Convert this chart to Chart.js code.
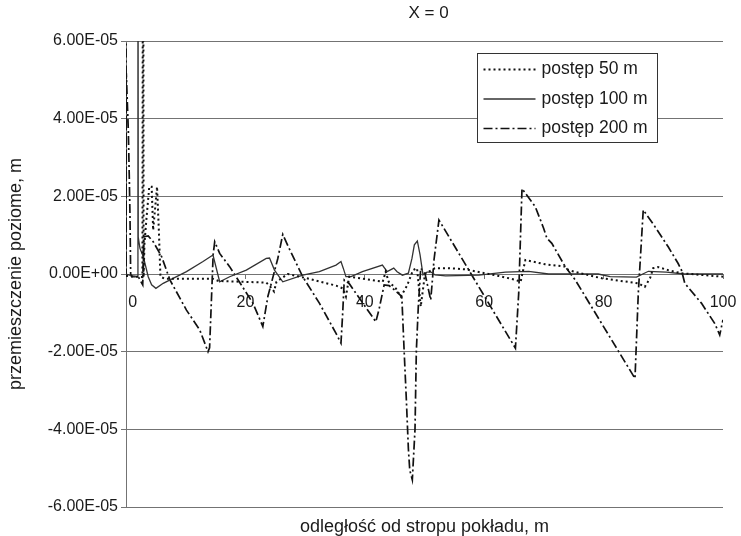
<!DOCTYPE html>
<html>
<head>
<meta charset="utf-8">
<title>X = 0</title>
<script src="https://cdn.jsdelivr.net/npm/chart.js@4.4.1/dist/chart.umd.min.js"></script>
<style>
  html, body { margin: 0; padding: 0; background: #fff; }
  canvas { display: block; }
</style>
</head>
<body>
<canvas id="chart" width="741" height="536"></canvas>
<script>
// displacement values are in 1e-5 m, distance in m
const x50 = [0, 2.75, 2.87, 2.95, 3.1, 3.45, 3.9, 4.3, 4.55, 5.2, 5.5, 5.77, 6.5, 14.5, 15.5, 23.5, 24.3, 24.8, 25.2, 27.1, 30, 35.2, 36.3, 36.84, 37.4, 43, 43.5, 44, 45.2, 46.03, 47.08, 48.08, 48.75, 49.37, 50.08, 51.75, 54.09, 56.88, 59.1, 62.44, 65.23, 66.1, 66.9, 70.2, 73.57, 74.1, 76.1, 79.7, 82.5, 85.8, 86.9, 87.8, 88.3, 89.1, 90.8, 93, 100];
const y50 = [-0.05, -0.08, 15, -0.08, 0.8, 1.47, 2.25, 2.25, 1.13, 2.25, 1.13, -0.07, -0.12, -0.12, -0.18, -0.22, -0.35, -0.45, -0.2, 0, -0.1, -0.3, -0.37, -0.58, -0.07, -0.2, 0.06, -0.2, -0.37, -0.58, -0.3, 0.1, 0.15, -0.84, 0, 0.15, 0.15, 0.12, 0.05, -0.05, -0.15, -0.2, 0.36, 0.25, 0.19, 0.1, 0.02, -0.11, -0.17, -0.24, -0.33, -0.1, 0.15, 0.18, 0.1, 0.02, -0.07];

const x100 = [0, 1, 1.95, 2, 2.05, 2.34, 2.89, 3.17, 3.72, 4.29, 5.01, 6.23, 10.13, 12.9, 14.57, 15.69, 17.36, 20.15, 23.49, 24.04, 24.87, 26.26, 29.6, 32.39, 35.18, 36.01, 36.39, 36.84, 37.7, 39.6, 42.95, 43.74, 44.85, 45.41, 46.3, 47.3, 47.9, 48.3, 48.8, 49.25, 49.75, 50.42, 51.09, 51.75, 53.54, 59.1, 63.56, 67.45, 70.78, 79.1, 81.1, 85.5, 87.5, 90.5, 93.5, 100];
const y100 = [0, -0.05, -0.07, 15, 0.95, 0.66, 0.45, 0.28, -0.07, -0.28, -0.37, -0.24, 0.06, 0.32, 0.49, -0.2, -0.07, 0.1, 0.4, 0.41, 0.1, -0.2, -0.03, 0.06, 0.23, 0.32, 0.15, -0.07, -0.07, 0.06, 0.23, 0.06, 0.15, 0.06, -0.03, 0.02, 0.4, 0.75, 0.85, 0.5, -0.02, 0.05, 0.05, -0.02, -0.05, -0.03, 0.05, 0.07, 0, 0, -0.07, -0.08, 0.07, 0.05, 0, 0];

const x200 = [0, 0.02, 0.05, 0.39, 0.55, 0.67, 0.78, 0.95, 2.05, 2.8, 3, 3.72, 4.56, 5.96, 7.35, 10.13, 12.35, 13.74, 14, 14.6, 14.86, 15.69, 17.36, 21.25, 22.92, 23.76, 25.43, 26.26, 27.2, 29.6, 32.39, 35.18, 36.01, 36.3, 36.56, 37.4, 41.85, 42.4, 43.24, 44.07, 44.9, 46.2, 46.58, 46.96, 47.3, 47.53, 47.96, 48.41, 48.63, 48.96, 49.37, 50.1, 51.04, 51.3, 51.59, 52.42, 65.23, 65.78, 66.33, 68.56, 69.95, 70.5, 71.33, 73.57, 75.24, 85.26, 85.81, 86.64, 88.6, 90.82, 92.49, 93.04, 93.6, 96.38, 98.6, 99.45, 100];
const y200 = [15, -0.05, 5.17, 3.7, 2.5, 1.47, 0, -0.07, -0.07, -0.28, 0.96, 0.98, 0.83, 0.45, -0.15, -0.93, -1.44, -2, -1.9, 0.5, 0.83, 0.53, 0.19, -0.75, -1.35, -0.58, 0.4, 1.02, 0.7, -0.07, -0.75, -1.53, -1.78, -1, -0.15, -0.25, -1.23, -0.9, -0.28, -0.3, -0.4, -0.58, -1.95, -3.24, -4.5, -5.05, -5.3, -4, -2, -0.84, 0.15, 0, -0.67, -0.2, 0.36, 1.39, -1.91, -0.5, 2.2, 1.73, 1.18, 0.92, 0.79, 0.19, -0.15, -2.69, -0.5, 1.65, 1.22, 0.7, 0.27, 0.1, -0.24, -0.75, -1.27, -1.57, -1.18];

const seriesLabels = ['postęp 50 m', 'postęp 100 m', 'postęp 200 m'];
const yTicks = [-6, -4, -2, 0, 2, 4, 6];
const xTicks = [0, 20, 40, 60, 80, 100];
const chartTitle = 'X = 0';
const xTitle = 'odległość od stropu pokładu, m';
const yTitle = 'przemieszczenie poziome, m';

const FONT = '"Liberation Sans", Arial, sans-serif';
const TEXT = '#1a1a1a';
const GRID = '#737373';

const toPoints = (xs, ys) => xs.map((x, i) => ({ x: x, y: ys[i] }));

// 6 -> "6.00E-05"
const expLabel = v => v === 0 ? '0.00E+00' : v.toFixed(2) + 'E-05';

// title and x axis title are centred on the plot area, not the canvas
const plotTitles = {
    id: 'plotTitles',
    afterDraw(chart) {
        const ctx = chart.ctx;
        const area = chart.chartArea;
        const cx = (area.left + area.right) / 2;
        ctx.save();
        ctx.fillStyle = TEXT;
        ctx.textAlign = 'center';
        ctx.textBaseline = 'middle';
        ctx.font = '17px ' + FONT;
        ctx.fillText(chartTitle, cx + 4, 13);
        ctx.font = '18px ' + FONT;
        ctx.fillText(xTitle, cx, area.bottom + 20);
        ctx.restore();
    }
};

// legend drawn inside the plot, top right
const legendBox = {
    id: 'legendBox',
    afterDatasetsDraw(chart) {
        const ctx = chart.ctx;
        const area = chart.chartArea;
        const left = Math.round(area.left + 351) + 0.5;
        const top = Math.round(area.top + 12) + 0.5;
        ctx.save();
        ctx.fillStyle = '#fff';
        ctx.strokeStyle = '#333';
        ctx.lineWidth = 1;
        ctx.fillRect(left, top, 180, 89);
        ctx.strokeRect(left, top, 180, 89);
        chart.data.datasets.forEach((ds, i) => {
            const y = top + 16 + i * 29.5;
            ctx.beginPath();
            ctx.setLineDash(ds.borderDash || []);
            ctx.lineWidth = ds.borderWidth;
            ctx.strokeStyle = ds.borderColor;
            ctx.moveTo(left + 6, y);
            ctx.lineTo(left + 58, y);
            ctx.stroke();
            ctx.setLineDash([]);
            ctx.fillStyle = TEXT;
            ctx.font = '17.5px ' + FONT;
            ctx.textBaseline = 'middle';
            ctx.fillText(ds.label, left + 64, y);
        });
        ctx.restore();
    }
};

new Chart(document.getElementById('chart'), {
    type: 'line',
    data: {
        datasets: [{
            label: seriesLabels[0],
            data: toPoints(x50, y50),
            borderColor: '#111',
            borderWidth: 2,
            borderDash: [2, 3]
        }, {
            label: seriesLabels[1],
            data: toPoints(x100, y100),
            borderColor: '#333',
            borderWidth: 1.3
        }, {
            label: seriesLabels[2],
            data: toPoints(x200, y200),
            borderColor: '#111',
            borderWidth: 1.7,
            borderDash: [9, 3, 2, 3]
        }]
    },
    options: {
        responsive: false,
        animation: false,
        devicePixelRatio: 1,
        elements: {
            point: { radius: 0 },
            line: { tension: 0, fill: false }
        },
        layout: {
            autoPadding: false,
            padding: { left: 0, right: 18, top: 41, bottom: 29 }
        },
        plugins: {
            legend: { display: false },
            tooltip: { enabled: false },
            title: { display: false }
        },
        scales: {
            x: {
                type: 'linear',
                min: 0,
                max: 100,
                position: { y: 0 },
                afterBuildTicks: scale => {
                    scale.ticks = xTicks.map(v => ({ value: v }));
                },
                afterFit: scale => {
                    scale.paddingLeft = 0;
                    scale.paddingRight = 0;
                },
                grid: { drawOnChartArea: false, drawTicks: true, tickLength: 4, color: GRID },
                border: { color: GRID },
                ticks: {
                    color: TEXT,
                    padding: 15,
                    maxRotation: 0,
                    font: { family: FONT, size: 16 },
                    callback: v => v === 0 ? '   0' : String(v)
                }
            },
            y: {
                min: -6,
                max: 6,
                afterBuildTicks: scale => {
                    scale.ticks = yTicks.map(v => ({ value: v }));
                },
                afterFit: scale => {
                    scale.width = 126;
                },
                grid: { color: GRID, tickLength: 5 },
                border: { color: GRID },
                ticks: {
                    color: TEXT,
                    padding: 3,
                    font: { family: FONT, size: 16 },
                    callback: expLabel
                },
                title: {
                    display: true,
                    text: yTitle,
                    color: TEXT,
                    font: { family: FONT, size: 18 },
                    padding: { top: 5, bottom: 0 }
                }
            }
        }
    },
    plugins: [legendBox, plotTitles]
});
</script>
</body>
</html>
